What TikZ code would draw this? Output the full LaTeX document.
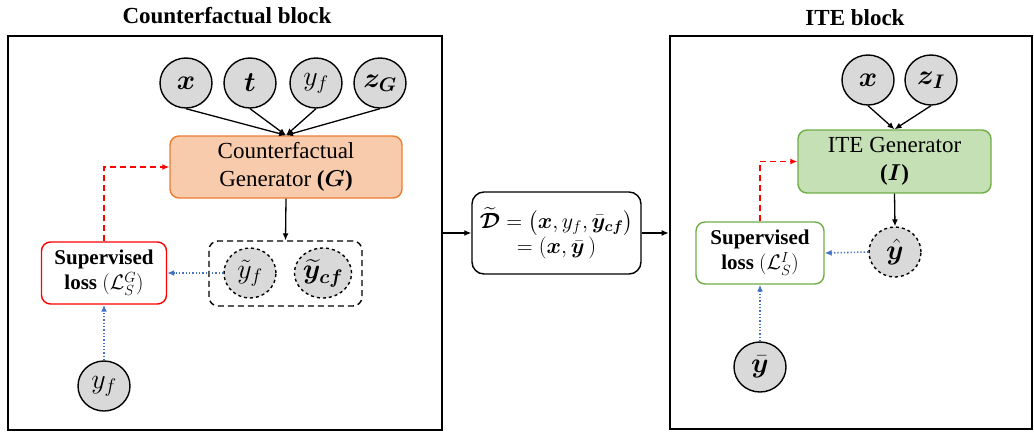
\RequirePackage{fix-cm}
\documentclass[tikz,border=0pt]{standalone}
\usepackage{amsmath,bm}
\usepackage{fontspec}
\setmainfont{Liberation Serif}
\usetikzlibrary{arrows.meta,shapes.geometric}
\definecolor{orfill}{HTML}{F8CBAD}
\definecolor{ordraw}{HTML}{ED7D31}
\definecolor{grfill}{HTML}{C5E0B4}
\definecolor{grdraw}{HTML}{70AD47}
\definecolor{blu}{HTML}{4472C4}
\definecolor{cgray}{HTML}{D9D9D9}
\begin{document}
\begin{tikzpicture}[x=1pt,y=-1pt,
  titletext/.style={font=\fontsize{23}{26}\selectfont\bfseries},
  var/.style={ellipse, draw, line width=1.4pt, fill=cgray, minimum width=52pt, minimum height=50pt, inner sep=0, font=\fontsize{28}{30}\selectfont},
  dvar/.style={var, dashed},
  genbox/.style={rounded corners=9pt, draw, line width=1.4pt, inner sep=0, font=\fontsize{23}{28}\selectfont, align=center},
  lossbox/.style={rounded corners=9pt, draw, line width=1.4pt, fill=white, inner sep=0, font=\fontsize{21}{25}\selectfont, align=center, minimum height=62pt},
  arr/.style={-{Latex[length=7pt,width=6pt]}, line width=1.3pt},
  redarr/.style={arr, color=red, dash pattern=on 6pt off 4pt, line width=1.8pt},
  bluarr/.style={arr, color=blu, dotted, line width=1.6pt}
]
\useasboundingbox (0,0) rectangle (1034,432);
% titles
\node[titletext] (t1) at (227,16) {Counterfactual block};
\node[titletext] (t2) at (855,18) {ITE block};
% frames
\node[draw, line width=2.6pt, minimum width=434pt, minimum height=394pt, inner sep=0] (lf) at (225,233) {};
\node[draw, line width=2.6pt, minimum width=362pt, minimum height=393pt, inner sep=0] (rf) at (851,232.5) {};
% left block
\node[var] (x1) at (186,83) {$\bm{x}$};
\node[var] (t) at (250,83) {$\bm{t}$};
\node[var] (yf1) at (316,83) {$y_f$};
\node[var] (zG) at (380,83) {$\bm{z_G}$};
\node[genbox, fill=orfill, draw=ordraw, minimum width=232pt, minimum height=62pt] (gen) at (286,167) {Counterfactual\\Generator \textbf{(}$\bm{G}$\textbf{)}};
\node[draw, dashed, dash pattern=on 6pt off 4pt, line width=1.4pt, rounded corners=9pt, minimum width=153pt, minimum height=65pt] (out) at (285.5,273.5) {};
\node[dvar] (ytf) at (250,273) {$\tilde{y}_f$};
\node[dvar] (ytcf) at (323,273) {$\widetilde{\bm{y}}_{\bm{cf}}$};
\node[lossbox, draw=red, minimum width=125pt] (loss) at (104,273) {\textbf{Supervised}\\\textbf{loss} $(\mathcal{L}_S^G)$};
\node[var] (yfb) at (104,386) {$y_f$};
\foreach \n in {x1,t,yf1,zG} \draw[arr] (\n.south) -- (gen.north);
\draw[arr] (gen.south) -- (out.north);
\draw[redarr] (loss.north) |- (gen.west);
\draw[bluarr] (ytf.west) -- (loss.east);
\draw[bluarr] (yfb.north) -- (loss.south);
% middle
\node[rounded corners=12pt, draw, line width=1.4pt, minimum width=169pt, minimum height=82pt, inner sep=0, align=center, font=\fontsize{22}{24}\selectfont] (mid) at (556.5,233) {$\widetilde{\bm{\mathcal{D}}} = \bigl(\bm{x}, y_f, \bar{\bm{y}}_{\bm{cf}}\bigr)$\\$= (\bm{x}, \bar{\bm{y}}\,)$};
\draw[arr] (lf.east |- mid.west) -- (mid.west);
\draw[arr] (mid.east) -- (mid.east -| rf.west);
% right block
\node[var] (x2) at (868,80) {$\bm{x}$};
\node[var] (zI) at (931,80) {$\bm{z_I}$};
\node[genbox, fill=grfill, draw=grdraw, minimum width=193pt, minimum height=63pt] (ite) at (894.5,161.5) {ITE Generator\\\textbf{(}$\bm{I}$\textbf{)}};
\node[dvar] (yhat) at (895,252) {$\hat{\bm{y}}$};
\node[lossbox, draw=grdraw, minimum width=128pt] (loss2) at (760,253) {\textbf{Supervised}\\\textbf{loss} $(\mathcal{L}_S^I)$};
\node[var] (ybar) at (760,367) {$\bar{\bm{y}}$};
\foreach \n in {x2,zI} \draw[arr] (\n.south) -- (ite.north);
\draw[arr] (ite.south) -- (yhat.north);
\draw[redarr] (loss2.north) |- (ite.west);
\draw[bluarr] (yhat.west) -- (loss2.east);
\draw[bluarr] (ybar.north) -- (loss2.south);
\end{tikzpicture}
\end{document}
